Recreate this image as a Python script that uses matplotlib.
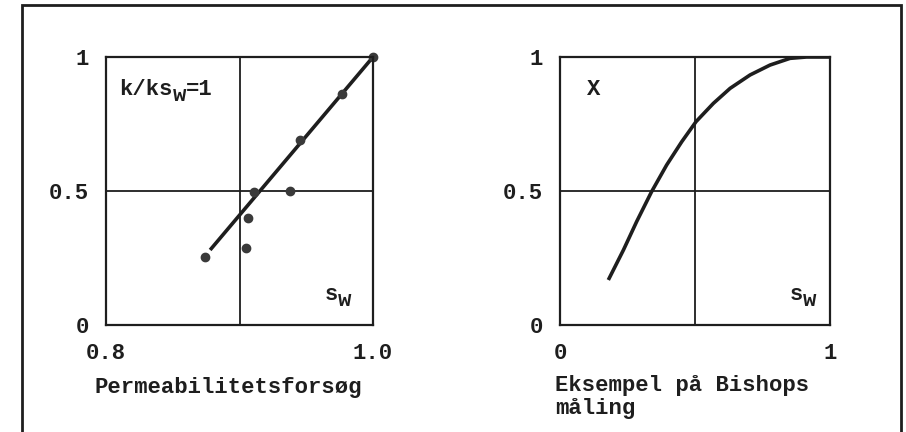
import matplotlib
matplotlib.use("Agg")
import matplotlib.pyplot as plt
from matplotlib.patches import Rectangle
from matplotlib.transforms import offset_copy

plt.rcParams['font.family'] = ['Liberation Mono', 'DejaVu Sans Mono']
plt.rcParams['font.weight'] = 'bold'

ink = '#1e1e1e'
fs = 16

# permeabilitetsforsøg: målte punkter og rette linje
perm_sw = [0.874, 0.905, 0.906, 0.911, 0.938, 0.945, 0.977, 1.0]
perm_k = [0.254, 0.288, 0.40, 0.497, 0.50, 0.69, 0.862, 1.0]
fit_sw = [0.878, 1.0]
fit_k = [0.28, 1.0]

# Bishops måling: chi som funktion af s_w
bish_sw = [0.179, 0.235, 0.284, 0.339, 0.395, 0.451, 0.504, 0.568,
           0.630, 0.704, 0.778, 0.852, 0.913, 1.0]
bish_chi = [0.168, 0.280, 0.386, 0.497, 0.597, 0.684, 0.759, 0.827,
            0.883, 0.933, 0.970, 0.995, 1.0, 1.0]

fig = plt.figure(figsize=(9.06, 4.32), dpi=100)
W, H = 906, 432

def panel(x0, w):
    ax = fig.add_axes([x0 / W, 107 / H, w / W, 268 / H])
    for s in ax.spines.values():
        s.set_linewidth(1.6)
        s.set_color(ink)
    ax.tick_params(length=0, labelsize=fs, colors=ink)
    ax.tick_params(axis='x', pad=13)
    ax.tick_params(axis='y', pad=12)
    ax.set_ylim(0, 1)
    ax.set_yticks([0, 0.5, 1])
    ax.set_yticklabels(['0', '0.5', '1'])
    return ax

def subscripted(ax, x, y, base, sub, tail=''):
    # typewriter-stil: subskript i fuld størrelse, sænket
    tr = ax.transAxes
    ax.text(x, y, base, transform=tr, fontsize=fs, color=ink)
    cw = 0.6 * fs
    ax.text(x, y, sub, fontsize=fs, color=ink,
            transform=offset_copy(tr, fig, x=cw * len(base), y=-5, units='points'))
    if tail:
        ax.text(x, y, tail, fontsize=fs, color=ink,
                transform=offset_copy(tr, fig, x=cw * (len(base) + 1), units='points'))

ax1 = panel(106, 267)
ax1.set_xlim(0.8, 1.0)
ax1.set_xticks([0.8, 1.0])
ax1.set_xticklabels(['0.8', '1.0'])
ax1.axvline(0.9, color=ink, lw=1.3)
ax1.axhline(0.5, color=ink, lw=1.3)
ax1.plot(fit_sw, fit_k, color=ink, lw=2.6, solid_capstyle='butt')
ax1.plot(perm_sw, perm_k, 'o', color='#3a3a3a', ms=6, clip_on=False)
subscripted(ax1, 0.05, 0.86, 'k/ks', 'w', '=1')
subscripted(ax1, 0.82, 0.095, 's', 'w')
fig.text(95 / W, 1 - 387 / H, 'Permeabilitetsforsøg', fontsize=fs,
         color=ink, va='center')

ax2 = panel(560, 270)
ax2.set_xlim(0, 1)
ax2.set_xticks([0, 1])
ax2.set_xticklabels(['0', '1'])
ax2.axvline(0.5, color=ink, lw=1.3)
ax2.axhline(0.5, color=ink, lw=1.3)
ax2.plot(bish_sw, bish_chi, color=ink, lw=2.6, solid_capstyle='butt')
ax2.text(0.10, 0.86, 'X', transform=ax2.transAxes, fontsize=fs, color=ink)
subscripted(ax2, 0.85, 0.095, 's', 'w')
fig.text(555 / W, 1 - 397 / H, 'Eksempel på Bishops\nmåling', fontsize=fs,
         color=ink, va='center', linespacing=1.1)

# ramme om figuren
fig.patches.append(Rectangle((22 / W, -0.2), (901 - 22) / W, 1.2 - 5 / H,
                             transform=fig.transFigure, fill=False,
                             lw=2.0, edgecolor=ink))

fig.savefig('out.png', dpi=100)
